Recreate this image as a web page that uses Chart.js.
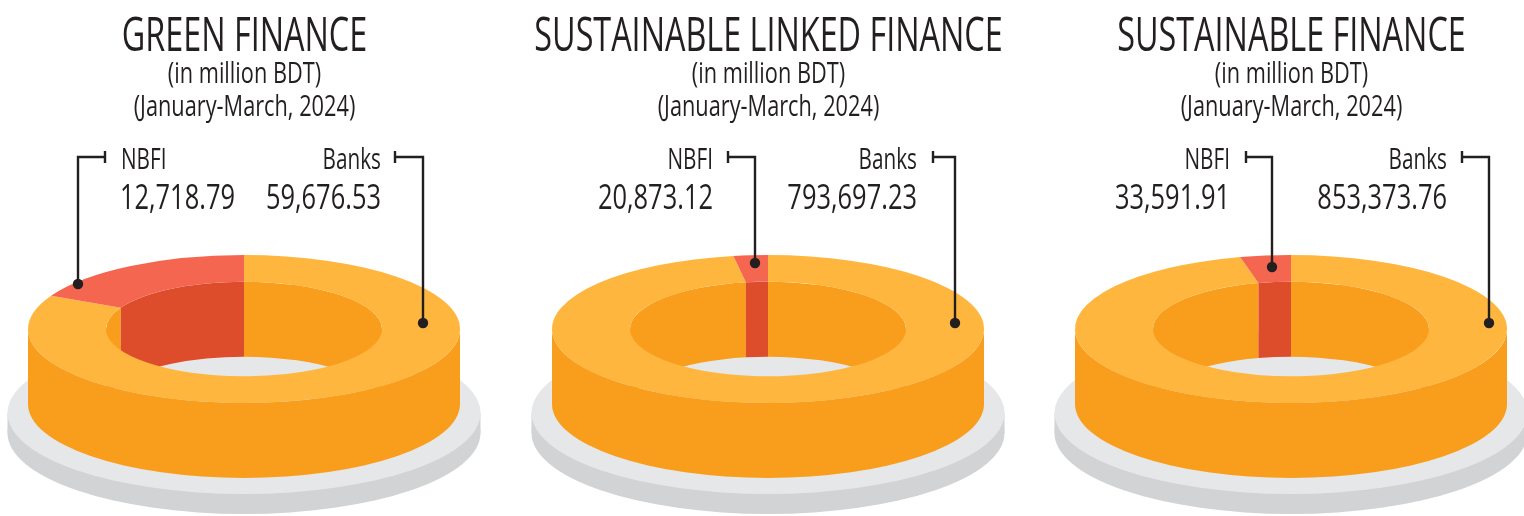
<!DOCTYPE html>
<html>
<head>
<meta charset="utf-8">
<title>Green and sustainable finance</title>
<script src="https://cdn.jsdelivr.net/npm/chart.js@4"></script>
<style>
  html, body { margin: 0; padding: 0; background: #fff; overflow: hidden; }
  #wrap { position: relative; width: 1524px; height: 516px; overflow: hidden; }
  canvas { position: absolute; top: 0; }
</style>
</head>
<body>
<div id="wrap"></div>
<script>
// ---- data (in million BDT, January-March 2024) ----
const categories = ['Banks', 'NBFI'];
const chartTitles = ['GREEN FINANCE', 'SUSTAINABLE LINKED FINANCE', 'SUSTAINABLE FINANCE'];
const unitLine = '(in million BDT)';
const periodLine = '(January-March, 2024)';
const bankValues = [59676.53, 793697.23, 853373.76];
const nbfiValues = [12718.79, 20873.12, 33591.91];

// ---- colours, index follows categories ----
const topColors = ['#FEB63F', '#F4664F'];
const wallColors = ['#F99D1C', '#DE4D2B'];
const INK = '#231F20';

// ---- ring geometry ----
const OUTER = 216;
const INNER = 138;
const TILT = 0.3426;      // vertical squash of the ring
const RING_Y = 329;       // centre of the top face
const WALL = 75;          // ring height
const PLATE_R = 236.5;
const PLATE_Y = 413;
const PLATE_DEPTH = 20;
const CANVAS_W = 488;
const CANVAS_H = 516;
const canvasLefts = [0, 524, 1047];

// leader and label layout per chart, relative to its canvas
const layouts = [
  { nbfi: { tick: 105, drop: 78, dot: 284, labelX: 121, align: 'left', valueRight: 235 },
    bank: { tick: 395, drop: 423, dot: 323, right: 381 } },
  { nbfi: { tick: 204, drop: 231, dot: 263, labelX: 189, align: 'right', valueRight: 189 },
    bank: { tick: 409, drop: 431, dot: 323, right: 393 } },
  { nbfi: { tick: 199, drop: 225, dot: 267, labelX: 183, align: 'right', valueRight: 183 },
    bank: { tick: 415, drop: 442, dot: 323, right: 400 } }
];

const fmt = v => v.toLocaleString('en-US', { minimumFractionDigits: 2, maximumFractionDigits: 2 });

// condensed text: draws with a horizontal squeeze around the anchor
function condensed(ctx, text, x, y, size, align, squeeze) {
  ctx.save();
  ctx.translate(x, y);
  ctx.scale(squeeze, 1);
  ctx.font = '500 ' + size + 'px "Open Sans"';
  ctx.fillStyle = INK;
  ctx.textAlign = align;
  ctx.textBaseline = 'alphabetic';
  ctx.fillText(text, 0, 0);
  ctx.restore();
}

function ellipse(ctx, cx, cy, rx, ry, color) {
  ctx.fillStyle = color;
  ctx.beginPath();
  ctx.ellipse(cx, cy, rx, ry, 0, 0, Math.PI * 2);
  ctx.fill();
}

// one wall band of a slice: the part of [from, to] inside [lo, hi], extruded down
function wallBand(ctx, cx, r, from, to, lo, hi, color) {
  const a = Math.max(from, lo);
  const b = Math.min(to, hi);
  if (b <= a) return;
  ctx.fillStyle = color;
  ctx.beginPath();
  ctx.ellipse(cx, RING_Y, r, r * TILT, 0, a, b);
  ctx.ellipse(cx, RING_Y + WALL, r, r * TILT, 0, b, a, true);
  ctx.closePath();
  ctx.fill();
}

const ringPlugin = {
  id: 'ring3d',
  beforeDatasetDraw(chart, args) {
    const ctx = chart.ctx;
    const arcs = args.meta.data;
    const cx = arcs[0].x;
    const plateRy = PLATE_R * TILT;

    // base plate
    ctx.fillStyle = '#D1D3D4';
    ctx.fillRect(cx - PLATE_R, PLATE_Y, PLATE_R * 2, PLATE_DEPTH);
    ellipse(ctx, cx, PLATE_Y + PLATE_DEPTH, PLATE_R, plateRy, '#D1D3D4');
    ellipse(ctx, cx, PLATE_Y, PLATE_R, plateRy, '#E6E7E8');

    // walls follow the slice angles: back of the hole, then the front outside
    arcs.forEach((arc, i) => {
      const { startAngle, endAngle, innerRadius, outerRadius } = arc;
      wallBand(ctx, cx, innerRadius, startAngle, endAngle, -Math.PI / 2, 0, wallColors[i]);
      wallBand(ctx, cx, innerRadius, startAngle, endAngle, Math.PI, Math.PI * 1.5, wallColors[i]);
      wallBand(ctx, cx, outerRadius, startAngle, endAngle, 0, Math.PI, wallColors[i]);
    });

    // top face: the library's own arcs, squashed onto the ring
    ctx.save();
    ctx.translate(cx, RING_Y);
    ctx.scale(1, TILT);
    ctx.translate(-cx, -arcs[0].y);
  },
  afterDatasetDraw(chart) {
    chart.ctx.restore();
  },
  afterDraw(chart, args, opts) {
    const ctx = chart.ctx;
    const { layout, title } = opts;
    const [bank, nbfi] = chart.data.datasets[0].data;
    const cx = chart.getDatasetMeta(0).data[0].x + 0.5;

    condensed(ctx, title, cx, 51, 47, 'center', 0.688);
    condensed(ctx, unitLine, cx, 83, 29, 'center', 0.75);
    condensed(ctx, periodLine, cx, 116, 29, 'center', 0.75);

    leader(ctx, layout.nbfi);
    leader(ctx, layout.bank);

    condensed(ctx, categories[1], layout.nbfi.labelX, 169, 29, layout.nbfi.align, 0.715);
    condensed(ctx, fmt(nbfi), layout.nbfi.valueRight, 209, 35, 'right', 0.727);
    condensed(ctx, categories[0], layout.bank.right, 169, 29, 'right', 0.715);
    condensed(ctx, fmt(bank), layout.bank.right, 209, 35, 'right', 0.727);
  }
};

// bracket from the label down to a dot on the slice
function leader(ctx, l) {
  ctx.strokeStyle = INK;
  ctx.lineWidth = 2.4;
  ctx.beginPath();
  ctx.moveTo(l.tick, 151);
  ctx.lineTo(l.tick, 163);
  ctx.moveTo(l.tick, 157);
  ctx.lineTo(l.drop, 157);
  ctx.lineTo(l.drop, l.dot);
  ctx.stroke();
  ctx.fillStyle = INK;
  ctx.beginPath();
  ctx.arc(l.drop, l.dot, 5.2, 0, Math.PI * 2);
  ctx.fill();
}

// ---- one doughnut per finance type ----
const wrap = document.getElementById('wrap');
chartTitles.forEach((title, i) => {
  const canvas = document.createElement('canvas');
  canvas.width = CANVAS_W;
  canvas.height = CANVAS_H;
  canvas.style.left = canvasLefts[i] + 'px';
  wrap.appendChild(canvas);

  new Chart(canvas.getContext('2d'), {
    type: 'doughnut',
    data: {
      labels: categories,
      datasets: [{
        data: [bankValues[i], nbfiValues[i]],
        backgroundColor: topColors,
        borderWidth: 0,
        radius: OUTER,
        cutout: (INNER / OUTER * 100) + '%'
      }]
    },
    options: {
      responsive: false,
      animation: false,
      plugins: {
        legend: { display: false },
        tooltip: { enabled: false },
        ring3d: { layout: layouts[i], title }
      }
    },
    plugins: [ringPlugin]
  });
});
</script>
</body>
</html>
